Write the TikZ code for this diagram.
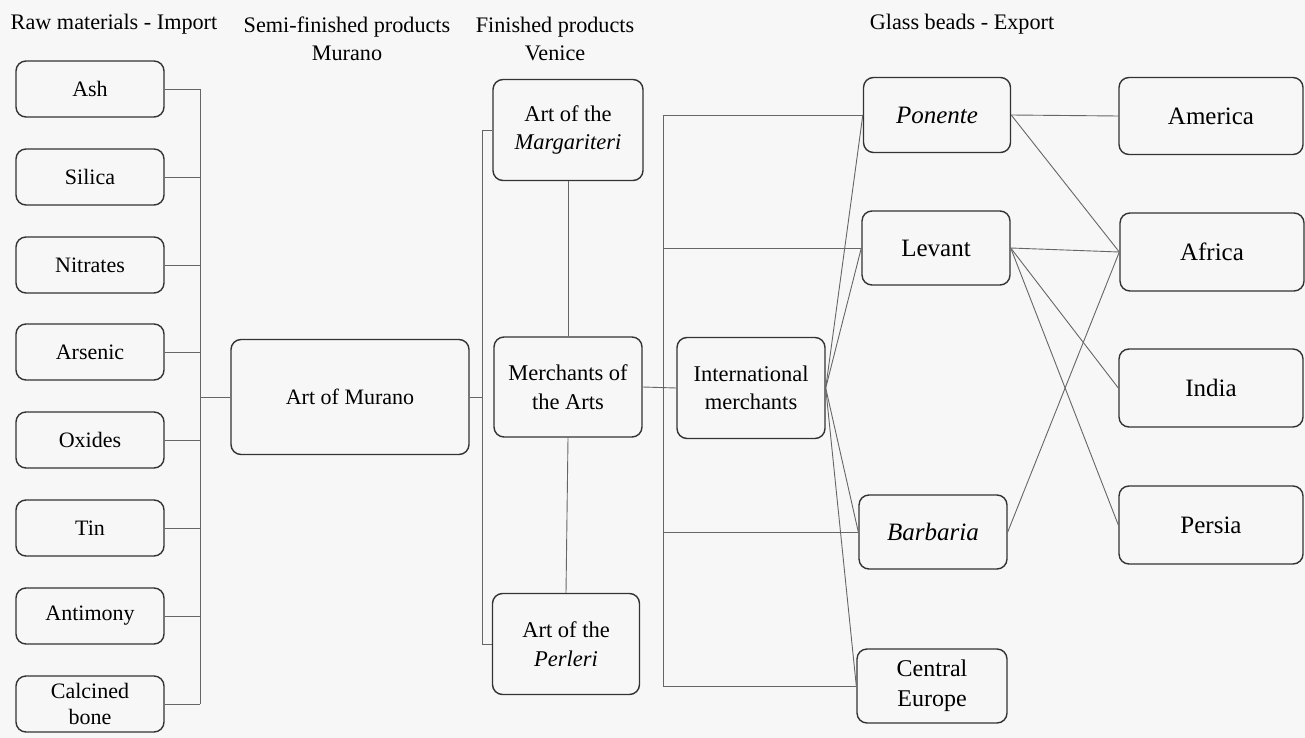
\documentclass[tikz,border=0pt]{standalone}
\usepackage{fontspec}
\setmainfont{Liberation Serif}
\begin{document}
\begin{tikzpicture}[x=1pt,y=-1pt,
  box/.style={draw=black!80,line width=1.4pt,rounded corners=10pt,fill=none,align=center,inner sep=0pt},
  conn/.style={draw=black!60,line width=0.9pt},
  hdr/.style={align=center,inner sep=0pt,font=\fontsize{22.2}{28}\selectfont},
  fs/.style={font=\fontsize{22}{27}\selectfont},
  fm/.style={font=\fontsize{22.5}{28.5}\selectfont},
  fr/.style={font=\fontsize{25}{30}\selectfont},
  lbox/.style={box,fs,minimum width=148pt,minimum height=56pt},
  mbox/.style={box,fm,minimum width=148pt,minimum height=100pt},
  ebox/.style={box,fm,minimum width=148pt,minimum height=74pt},
  rbox/.style={box,fr,minimum width=184pt,minimum height=77pt}]
\fill[black!3] (0,0) rectangle (1305,738);
\useasboundingbox (0,0) rectangle (1305,738);
% headers
\node[hdr] (h1) at (114,24) {Raw materials - Import};
\node[hdr] (h2) at (347,38.5) {Semi-finished products\\Murano};
\node[hdr] (h3) at (555,38.5) {Finished products\\Venice};
\node[hdr] (h4) at (962,24) {Glass beads - Export};
% raw materials
\node[lbox] (ash) at (90,89) {Ash};
\node[lbox] (sil) at (90,177) {Silica};
\node[lbox] (nit) at (90,265) {Nitrates};
\node[lbox] (ars) at (90,352) {Arsenic};
\node[lbox] (oxi) at (90,440) {Oxides};
\node[lbox] (tin) at (90,528) {Tin};
\node[lbox] (ant) at (90,616) {Antimony};
\node[lbox,font=\fontsize{22}{26}\selectfont] (cal) at (90,704) {Calcined\\bone};
% murano
\node[box,font=\fontsize{22}{27}\selectfont,minimum width=238pt,minimum height=115pt] (mur) at (350,397) {Art of Murano};
% finished products
\node[mbox,minimum width=150pt,minimum height=101pt] (mar) at (568,130) {Art of the\\\textit{Margariteri}};
\node[mbox] (mer) at (568,387) {Merchants of\\the Arts};
\node[mbox,minimum width=147pt,minimum height=101pt] (per) at (566,644) {Art of the\\\textit{Perleri}};
% international
\node[mbox,minimum height=101pt] (int) at (751,388) {International\\merchants};
% export
\node[ebox,fr,minimum width=147pt,minimum height=75pt] (pon) at (937,115) {\textit{Ponente}};
\node[ebox,fr] (lev) at (936,248) {Levant};
\node[ebox,fr] (bar) at (933,532) {\textit{Barbaria}};
\node[ebox,minimum width=150pt,font=\fontsize{24}{30}\selectfont] (cen) at (932,686) {Central\\Europe};
% destinations
\node[rbox] (ame) at (1211,116) {America};
\node[rbox,minimum height=78pt] (afr) at (1212,252) {Africa};
\node[rbox,minimum height=78pt] (ind) at (1211,388) {India};
\node[rbox,minimum height=78pt] (per2) at (1211,525) {Persia};
% bus coordinates
\coordinate (bL) at (200,397);
\coordinate (bM) at (482,397);
\coordinate (bR) at (663,388);
% left bus
\foreach \n in {ash,sil,nit,ars,oxi,tin,ant,cal}{
  \draw[conn] (\n.east) -- (\n.east -| bL);
}
\draw[conn] (ash.east -| bL) -- (cal.east -| bL);
\draw[conn] (bL) -- (mur.west);
% middle bus
\draw[conn] (mur.east) -- (bM);
\draw[conn] (bM |- mar.west) -- (bM |- per.west);
\draw[conn] (bM |- mar.west) -- (mar.west);
\draw[conn] (bM |- per.west) -- (per.west);
\draw[conn] (mar.south) -- (mer.north);
\draw[conn] (mer.south) -- (per.north);
% merchants to international
\draw[conn] (mer.east) -- (int.west);
\draw[conn] (bR |- pon.west) -- (bR |- cen.west);
\foreach \n in {pon,lev,bar,cen}{
  \draw[conn] (bR |- \n.west) -- (\n.west);
  \draw[conn] (int.east) -- (\n.west);
}
% export to destinations
\draw[conn] (pon.east) -- (ame.west);
\draw[conn] (pon.east) -- (afr.west);
\draw[conn] (lev.east) -- (afr.west);
\draw[conn] (lev.east) -- (ind.west);
\draw[conn] (lev.east) -- (per2.west);
\draw[conn] (bar.east) -- (afr.west);
\end{tikzpicture}
\end{document}
